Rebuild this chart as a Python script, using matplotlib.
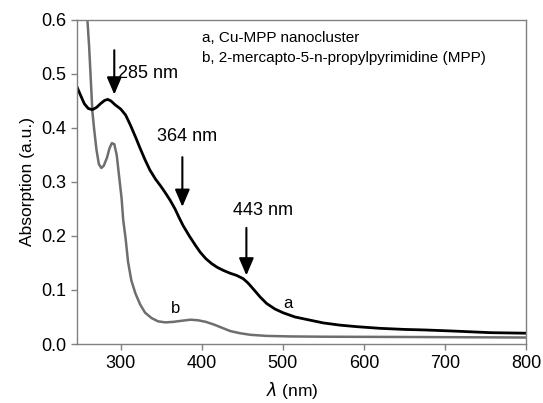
import numpy as np
import matplotlib
matplotlib.use("Agg")
import matplotlib.pyplot as plt

plt.rcParams['font.family'] = ['Liberation Sans', 'DejaVu Sans']

# curve a: Cu-MPP nanocluster
wl_a = [246, 250, 255, 260, 265, 270, 275, 280, 284, 288, 293, 300, 306, 312,
        318, 324, 330, 336, 343, 349, 355, 361, 367, 372, 377, 385, 392, 398,
        405, 412, 419, 427, 435, 443, 451, 457, 464, 472, 480, 490, 500, 515,
        534, 550, 570, 592, 620, 650, 675, 710, 756, 800]
abs_a = [0.476, 0.462, 0.445, 0.436, 0.434, 0.438, 0.445, 0.451, 0.453, 0.450,
         0.443, 0.435, 0.424, 0.405, 0.384, 0.362, 0.341, 0.322, 0.305, 0.293,
         0.280, 0.266, 0.250, 0.234, 0.219, 0.199, 0.183, 0.170, 0.158, 0.149,
         0.142, 0.136, 0.131, 0.127, 0.121, 0.113, 0.101, 0.087, 0.075, 0.065,
         0.058, 0.050, 0.044, 0.039, 0.035, 0.032, 0.029, 0.027, 0.026, 0.024,
         0.021, 0.020]

# curve b: MPP ligand
wl_b = [255, 258, 261, 263, 265, 267, 270, 273, 276, 279, 283, 286, 289, 292,
        295, 298, 301, 303, 306, 309, 313, 318, 324, 330, 338, 346, 355, 365,
        375, 386, 395, 405, 415, 425, 435, 447, 460, 480, 510, 550, 650, 800]
abs_b = [0.68, 0.62, 0.55, 0.49, 0.43, 0.40, 0.36, 0.333, 0.326, 0.330, 0.345,
         0.362, 0.372, 0.370, 0.350, 0.310, 0.270, 0.230, 0.195, 0.152, 0.118,
         0.094, 0.073, 0.058, 0.048, 0.042, 0.040, 0.041, 0.043, 0.045, 0.044,
         0.041, 0.036, 0.030, 0.024, 0.020, 0.017, 0.015, 0.014, 0.0135, 0.013,
         0.012]

# peak annotations: label, arrow x, arrow tail y, arrow tip y, text x, text y
peaks = [("285 nm", 292, 0.544, 0.462, 297, 0.500),
         ("364 nm", 376, 0.346, 0.254, 382, 0.384),
         ("443 nm", 455, 0.215, 0.127, 476, 0.247)]

fig = plt.figure(figsize=(5.43, 4.03), dpi=100)
ax = fig.add_axes([0.1418, 0.1464, 0.8269, 0.804])

ax.plot(wl_b, abs_b, color='#6e6e6e', lw=1.8)
ax.plot(wl_a, abs_a, color='black', lw=2.0)

for label, ax_x, y0, y1, tx, ty in peaks:
    ax.annotate('', xy=(ax_x, y1), xytext=(ax_x, y0),
                arrowprops=dict(arrowstyle='-|>,head_width=0.45,head_length=1.05',
                                color='black', lw=1.5, shrinkA=0, shrinkB=0))
    if label == "285 nm":
        ax.text(tx, ty, label, ha='left', va='center', fontsize=13)
    else:
        ax.text(tx, ty, label, ha='center', va='center', fontsize=13)

ax.text(506, 0.075, 'a', ha='center', va='center', fontsize=12)
ax.text(368, 0.066, 'b', ha='center', va='center', fontsize=12)

ax.text(0.278, 0.9435, 'a, Cu-MPP nanocluster', transform=ax.transAxes,
        ha='left', va='center', fontsize=11)
ax.text(0.278, 0.8818, 'b, 2-mercapto-5-n-propylpyrimidine (MPP)',
        transform=ax.transAxes, ha='left', va='center', fontsize=11)

ax.set_xlim(246, 800)
ax.set_ylim(0, 0.6)
ax.set_xticks([300, 400, 500, 600, 700, 800])
ax.set_yticks([0.0, 0.1, 0.2, 0.3, 0.4, 0.5, 0.6])
ax.yaxis.set_major_formatter(matplotlib.ticker.FormatStrFormatter('%.1f'))
ax.tick_params(direction='out', length=4, width=1, color='#808080',
               labelsize=13, pad=4)
for s in ax.spines.values():
    s.set_color('#808080')
    s.set_linewidth(1.0)

ax.set_ylabel('Absorption (a.u.)', fontsize=12.5)
ax.set_xlabel(r'$\lambda$ (nm)', fontsize=12.5)
ax.xaxis.set_label_coords(0.48, -0.145)
ax.xaxis.label.set_va('center')

fig.savefig('out.png', dpi=100)
